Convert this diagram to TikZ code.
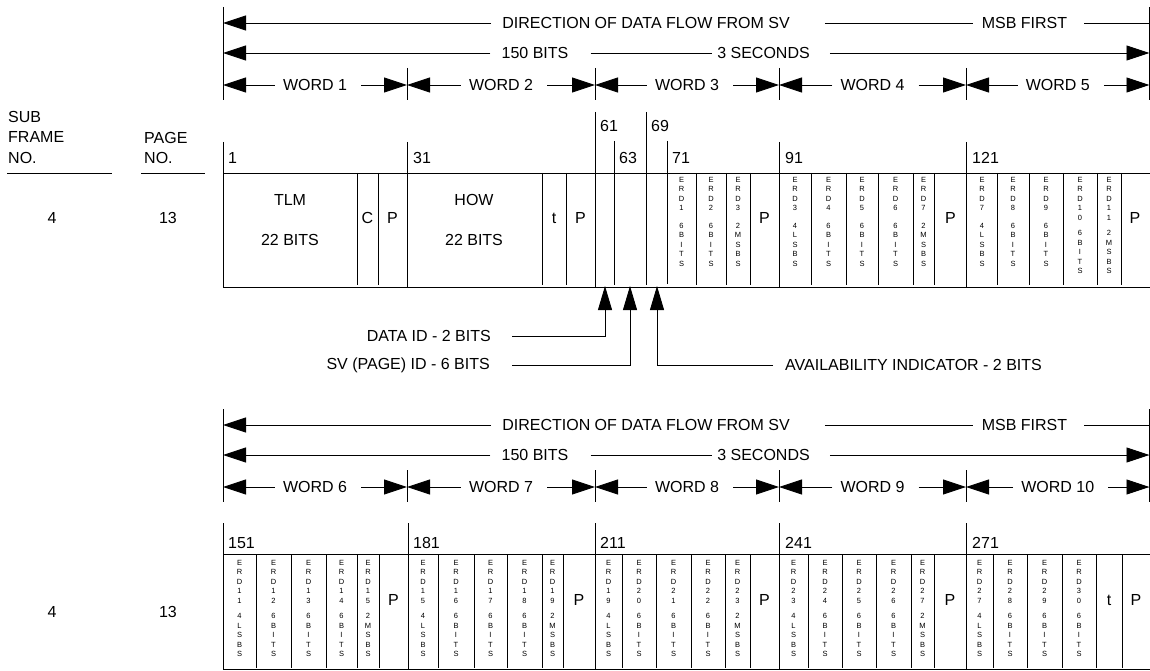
\documentclass[tikz,border=0pt]{standalone}
\usepackage{fontspec}
\setmainfont{Liberation Sans}
\usetikzlibrary{arrows.meta}
\tikzset{
  ln/.style={line width=0.9pt,draw=black},
  >={Triangle[length=23pt,width=15pt]},
  callarr/.style={ln,-{Triangle[length=24pt,width=14pt]}},
  lbl/.style={font=\fontsize{16}{19}\selectfont,inner sep=0pt},
  num/.style={lbl,anchor=west},
  erd/.style={font=\fontsize{7.5}{9.5}\selectfont,inner sep=0pt,align=center,anchor=north},
}
\newcommand\erdL{4\\L\\S\\B\\S}
\newcommand\erdB{6\\B\\I\\T\\S}
\newcommand\erdM{2\\M\\S\\B\\S}
% #1 name, #2 x, #3 y top, #4 digit lines, #5 lower part, #6 gap
\newcommand\erdcol[6]{\node[erd] (#1) at (#2,#3) {E\\R\\D#4\\[#6]#5};}
% word arrow: #1 name, #2 start, #3 end, #4 label
\newcommand\wordarr[4]{%
  \node[lbl] (#1) at ({(#2+#3)/2},85) {#4};
  \draw[ln,->] ([xshift=-8pt]#1.west) -- (#2,85);
  \draw[ln,->] ([xshift=14pt]#1.east) -- (#3,85);}
\newcommand\hdrrows[2]{%
\begin{scope}[shift={(0,#1)}]
  \draw[ln] (223,7) -- (223,100);
  \draw[ln] (1149.5,7) -- (1149.5,100);
  \foreach \x in {407,595,779,966} {\draw[ln] (\x,68) -- (\x,100);}
  \node[lbl] (dir#2) at (646,23) {DIRECTION OF DATA FLOW FROM SV};
  \node[lbl] (msb#2) at (1024.5,23) {MSB FIRST};
  \draw[ln,->] ([xshift=-11pt]dir#2.west) -- (223,23);
  \draw[ln] ([xshift=35pt]dir#2.east) -- ([xshift=-9pt]msb#2.west);
  \draw[ln] ([xshift=17pt]msb#2.east) -- (1150,23);
  \node[lbl] (bits#2) at (535,53) {150 BITS};
  \node[lbl] (sec#2) at (763.5,53) {3 SECONDS};
  \draw[ln,->] ([xshift=-11pt]bits#2.west) -- (223,53);
  \draw[ln] ([xshift=22pt]bits#2.east) -- ([xshift=-5pt]sec#2.west);
  \draw[ln,->] ([xshift=20pt]sec#2.east) -- (1149.5,53);
\end{scope}}
\begin{document}
\begin{tikzpicture}[x=1pt,y=-1pt]
\useasboundingbox (0,0) rectangle (1150,671);

%================ TOP SECTION =================
\hdrrows{0}{a}
\wordarr{w1}{223}{407}{WORD 1}
\wordarr{w2}{407}{595}{WORD 2}
\wordarr{w3}{595}{779}{WORD 3}
\wordarr{w4}{779}{966}{WORD 4}
\wordarr{w5}{966}{1149.5}{WORD 5}

% left headings
\node[num] (sub) at (8,117) {SUB};
\node[num] (frame) at (8,137) {FRAME};
\node[num] (no1) at (8,158) {NO.};
\node[num] (page) at (144,138) {PAGE};
\node[num] (no2) at (144,158) {NO.};
\draw[ln] (7,173) -- (112,173);
\draw[ln] (141,173) -- (205,173);
\node[lbl] (sf1) at (52,218) {4};
\node[lbl] (pg1) at (168,218) {13};

% bit number lines
\foreach \x in {223,407,779,966} {\draw[ln] (\x,142) -- (\x,287);}
\draw[ln] (595,112) -- (595,287);
\draw[ln] (646,112) -- (646,285);
\draw[ln] (614,141) -- (614,285);
\draw[ln] (667,141) -- (667,284);
\node[num] (n1) at (228,158) {1};
\node[num] (n31) at (413,158) {31};
\node[num] (n61) at (600,126) {61};
\node[num] (n63) at (619,158) {63};
\node[num] (n69) at (651,126) {69};
\node[num] (n71) at (672,158) {71};
\node[num] (n91) at (785,158) {91};
\node[num] (n121) at (972,158) {121};

% box
\draw[ln] (223,173) -- (1150,173);
\draw[ln] (223,287) -- (1150,287);
\foreach \x in {357,378,542,566,696,726,750,811,846,878,913,934,997,1029,1063,1097,1121}
  {\draw[ln] (\x,173) -- (\x,285);}

\node[lbl] (tlm) at (290,200) {TLM};
\node[lbl] (tlmb) at (290,240) {22 BITS};
\node[lbl] (c1) at (367.5,218) {C};
\node[lbl] (p1) at (392.5,218) {P};
\node[lbl] (how) at (474,200) {HOW};
\node[lbl] (howb) at (474,240) {22 BITS};
\node[lbl] (t2) at (554,218) {t};
\node[lbl] (p2) at (580.5,218) {P};
\node[lbl] (p3) at (764.5,218) {P};
\node[lbl] (p4) at (950.5,218) {P};
\node[lbl] (p5) at (1135,218) {P};

\erdcol{ea1}{681.5}{177}{\\1}{\erdB}{8pt}
\erdcol{ea2}{711}{177}{\\2}{\erdB}{8pt}
\erdcol{ea3}{738}{177}{\\3}{\erdM}{8pt}
\erdcol{ea4}{795}{177}{\\3}{\erdL}{8pt}
\erdcol{ea5}{828.5}{177}{\\4}{\erdB}{8pt}
\erdcol{ea6}{862}{177}{\\5}{\erdB}{8pt}
\erdcol{ea7}{895.5}{177}{\\6}{\erdB}{8pt}
\erdcol{ea8}{923.5}{177}{\\7}{\erdM}{8pt}
\erdcol{ea9}{982}{177}{\\7}{\erdL}{8pt}
\erdcol{ea10}{1013}{177}{\\8}{\erdB}{8pt}
\erdcol{ea11}{1046}{177}{\\9}{\erdB}{8pt}
\erdcol{ea12}{1080}{177}{\\1\\0}{\erdB}{6pt}
\erdcol{ea13}{1109}{177}{\\1\\1}{\erdM}{6pt}

% callouts
\node[lbl,anchor=east] (dataid) at (491,336) {DATA ID - 2 BITS};
\node[lbl,anchor=east] (svid) at (490,365) {SV (PAGE) ID - 6 BITS};
\node[lbl,anchor=west] (avail) at (785,365) {AVAILABILITY INDICATOR - 2 BITS};
\draw[callarr] ([xshift=21pt]dataid.east) -- (605,336) -- (605,286);
\draw[callarr] ([xshift=22pt]svid.east) -- (630,365) -- (630,286);
\draw[callarr] ([xshift=-12pt]avail.west) -- (657,365) -- (657,286);

%================ BOTTOM SECTION =================
\hdrrows{402}{b}
\begin{scope}[shift={(0,402)}]
\wordarr{w6}{223}{407}{WORD 6}
\wordarr{w7}{407}{595}{WORD 7}
\wordarr{w8}{595}{779}{WORD 8}
\wordarr{w9}{779}{966}{WORD 9}
\wordarr{w10}{966}{1149.5}{WORD 10}
\end{scope}

\node[lbl] (sf2) at (52,612) {4};
\node[lbl] (pg2) at (168,612) {13};

\foreach \x in {223,408,595,779,966} {\draw[ln] (\x,523) -- (\x,669.5);}
\node[num] (n151) at (228,543) {151};
\node[num] (n181) at (413,543) {181};
\node[num] (n211) at (600,543) {211};
\node[num] (n241) at (785,543) {241};
\node[num] (n271) at (972,543) {271};

\draw[ln] (223,554) -- (1150,554);
\draw[ln] (223,669.5) -- (1150,669.5);
\foreach \x in {256,291,326,357,379,438,474,507,542,563,622,656,691,725,750,808,842,876,911,934,993,1027,1062,1096,1122}
  {\draw[ln] (\x,554) -- (\x,668);}

\erdcol{eb1}{239.5}{560}{\\1\\1}{\erdL}{6pt}
\erdcol{eb2}{273.5}{560}{\\1\\2}{\erdB}{6pt}
\erdcol{eb3}{308.5}{560}{\\1\\3}{\erdB}{6pt}
\erdcol{eb4}{341.5}{560}{\\1\\4}{\erdB}{6pt}
\erdcol{eb5}{368}{560}{\\1\\5}{\erdM}{6pt}
\node[lbl] (pb1) at (393.5,600) {P};
\erdcol{eb6}{423}{560}{\\1\\5}{\erdL}{6pt}
\erdcol{eb7}{456}{560}{\\1\\6}{\erdB}{6pt}
\erdcol{eb8}{490.5}{560}{\\1\\7}{\erdB}{6pt}
\erdcol{eb9}{524.5}{560}{\\1\\8}{\erdB}{6pt}
\erdcol{eb10}{552.5}{560}{\\1\\9}{\erdM}{6pt}
\node[lbl] (pb2) at (579,600) {P};
\erdcol{eb11}{608.5}{560}{\\1\\9}{\erdL}{6pt}
\erdcol{eb12}{639}{560}{\\2\\0}{\erdB}{6pt}
\erdcol{eb13}{673.5}{560}{\\2\\1}{\erdB}{6pt}
\erdcol{eb14}{708}{560}{\\2\\2}{\erdB}{6pt}
\erdcol{eb15}{737.5}{560}{\\2\\3}{\erdM}{6pt}
\node[lbl] (pb3) at (764.5,600) {P};
\erdcol{eb16}{793.5}{560}{\\2\\3}{\erdL}{6pt}
\erdcol{eb17}{825}{560}{\\2\\4}{\erdB}{6pt}
\erdcol{eb18}{859}{560}{\\2\\5}{\erdB}{6pt}
\erdcol{eb19}{893.5}{560}{\\2\\6}{\erdB}{6pt}
\erdcol{eb20}{922.5}{560}{\\2\\7}{\erdM}{6pt}
\node[lbl] (pb4) at (950,600) {P};
\erdcol{eb21}{979.5}{560}{\\2\\7}{\erdL}{6pt}
\erdcol{eb22}{1010}{560}{\\2\\8}{\erdB}{6pt}
\erdcol{eb23}{1044.5}{560}{\\2\\9}{\erdB}{6pt}
\erdcol{eb24}{1079}{560}{\\3\\0}{\erdB}{6pt}
\node[lbl] (tb) at (1109,600) {t};
\node[lbl] (pb5) at (1136,600) {P};
\end{tikzpicture}
\end{document}
